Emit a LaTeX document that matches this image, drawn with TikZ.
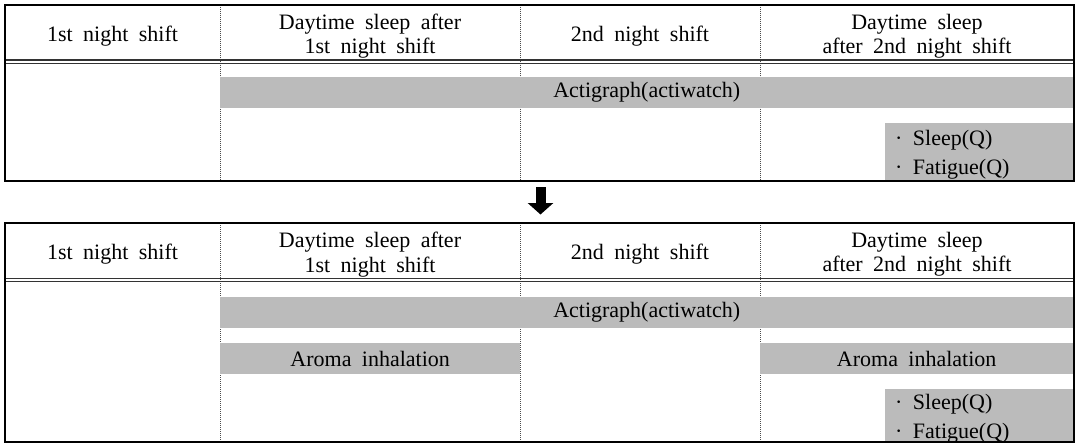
\documentclass[tikz,border=0pt]{standalone}
\usepackage{fontspec}
\setmainfont{Liberation Serif}[WordSpace=1.9]
\usetikzlibrary{arrows.meta}
\definecolor{bargray}{RGB}{187,187,187}
\begin{document}
\begin{tikzpicture}[x=1pt,y=-1pt,
  txt/.style={font=\fontsize{22}{24.3}\selectfont, inner sep=0pt, align=center},
  bar/.style={fill=bargray, inner sep=0pt, anchor=north west, font=\fontsize{22}{24}\selectfont},
  frame/.style={line width=2pt, draw=black},
  dline/.style={line width=1.1pt, draw=black!80},
  sep/.style={line width=0.7pt, draw=black!70, dash pattern=on 1pt off 1pt},
  list/.style={font=\fontsize{22}{29}\selectfont, inner sep=0pt, align=left, anchor=west}
]
\useasboundingbox (0,0) rectangle (1077,445);

% ---------- top table ----------
\foreach \x in {220,520,760} \draw[sep] (\x,4.5) -- (\x,180.5);
\node[txt] (t-h1) at (112.5,36) {1st night shift};
\node[txt] (t-h2) at (370,36) {Daytime sleep after\\1st night shift};
\node[txt] (t-h3) at (640,36) {2nd night shift};
\node[txt] (t-h4) at (917,36) {Daytime sleep\\after 2nd night shift};
\node[bar, minimum width=853pt, minimum height=31pt] (t-act) at (220,77) {Actigraph(actiwatch)};
\node[bar, minimum width=188pt, minimum height=57.5pt] (t-q) at (885,123) {};
\node[list] (t-qt) at (895,155) {·\ Sleep(Q)\\·\ Fatigue(Q)};
\draw[dline] (5,60) -- (1074,60);
\draw[dline] (5,63.3) -- (1074,63.3);
\draw[frame] (5,4.5) rectangle (1074,180.5);

% ---------- arrow ----------
\coordinate (arrS) at (540.5,187);
\coordinate (arrE) at (540.5,214.5);
\draw[line width=10pt, -{Triangle[width=25pt,length=11.5pt]}] (arrS) -- (arrE);

% ---------- bottom table ----------
\foreach \x in {220,520,760} \draw[sep] (\x,223) -- (\x,442);
\node[txt] (b-h1) at (112.5,254.5) {1st night shift};
\node[txt] (b-h2) at (370,254.5) {Daytime sleep after\\1st night shift};
\node[txt] (b-h3) at (640,254.5) {2nd night shift};
\node[txt] (b-h4) at (917,254.5) {Daytime sleep\\after 2nd night shift};
\node[bar, minimum width=853pt, minimum height=31pt] (b-act) at (220,297) {Actigraph(actiwatch)};
\node[bar, minimum width=300pt, minimum height=31pt] (b-ar1) at (220,343) {Aroma inhalation};
\node[bar, minimum width=313pt, minimum height=31pt] (b-ar2) at (760,343) {Aroma inhalation};
\node[bar, minimum width=188pt, minimum height=53pt] (b-q) at (885,389) {};
\node[list] (b-qt) at (895,419) {·\ Sleep(Q)\\·\ Fatigue(Q)};
\draw[dline] (5,278.3) -- (1074,278.3);
\draw[dline] (5,281.7) -- (1074,281.7);
\draw[frame] (5,223) rectangle (1074,442);
\end{tikzpicture}
\end{document}
